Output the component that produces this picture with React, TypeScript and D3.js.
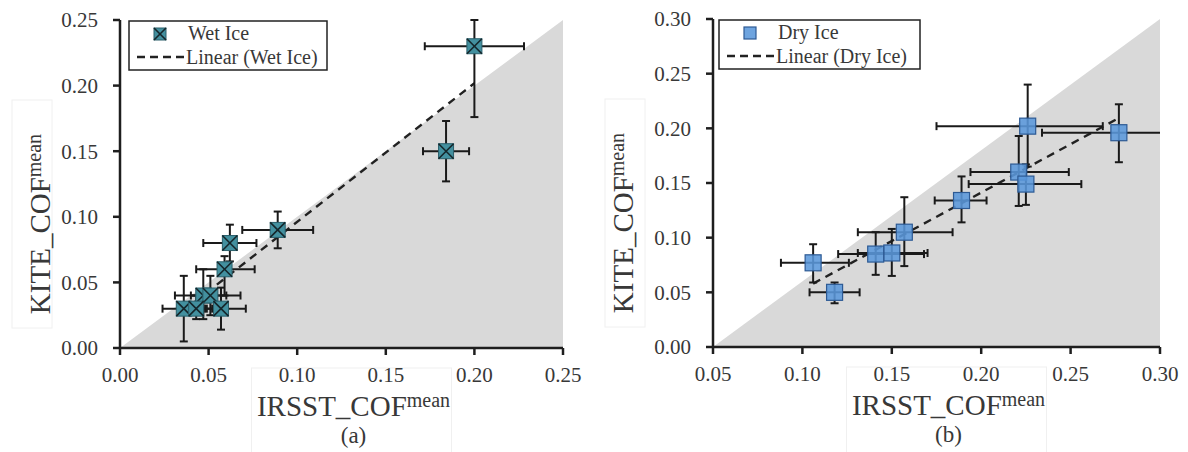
import React from 'react';
import * as d3 from 'd3';

// ---------- Data (a) Wet Ice ----------
const wetX = [0.200, 0.184, 0.089, 0.062, 0.059, 0.047, 0.051, 0.036, 0.043, 0.057];
const wetY = [0.230, 0.150, 0.090, 0.080, 0.060, 0.040, 0.040, 0.030, 0.030, 0.030];
const wetXLo = [0.172, 0.171, 0.069, 0.047, 0.043, 0.031, 0.040, 0.024, 0.035, 0.049];
const wetXHi = [0.228, 0.197, 0.109, 0.077, 0.076, 0.060, 0.068, 0.048, 0.052, 0.071];
const wetYLo = [0.176, 0.127, 0.076, 0.066, 0.040, 0.022, 0.025, 0.005, 0.022, 0.014];
const wetYHi = [0.250, 0.173, 0.104, 0.094, 0.070, 0.060, 0.055, 0.055, 0.040, 0.046];

// ---------- Data (b) Dry Ice ----------
const dryX = [0.226, 0.277, 0.221, 0.225, 0.189, 0.157, 0.150, 0.141, 0.106, 0.118];
const dryY = [0.202, 0.196, 0.160, 0.149, 0.134, 0.105, 0.086, 0.085, 0.077, 0.050];
const dryXLo = [0.175, 0.234, 0.194, 0.193, 0.174, 0.131, 0.131, 0.120, 0.088, 0.104];
const dryXHi = [0.268, 0.320, 0.249, 0.256, 0.203, 0.184, 0.170, 0.168, 0.126, 0.132];
const dryYLo = [0.165, 0.169, 0.129, 0.130, 0.114, 0.074, 0.065, 0.066, 0.059, 0.040];
const dryYHi = [0.240, 0.222, 0.193, 0.167, 0.156, 0.137, 0.108, 0.105, 0.094, 0.059];

// ---------- Ticks ----------
const wetXTicks = [0.0, 0.05, 0.10, 0.15, 0.20, 0.25];
const wetYTicks = [0.0, 0.05, 0.10, 0.15, 0.20, 0.25];
const dryXTicks = [0.05, 0.10, 0.15, 0.20, 0.25, 0.30];
const dryYTicks = [0.0, 0.05, 0.10, 0.15, 0.20, 0.25, 0.30];

const SERIF = "'Liberation Serif', 'DejaVu Serif', serif";
const TXT = '#383838';
const AX = '#1e1e1e';

function fit(xs: number[], ys: number[]) {
  const mx = d3.mean(xs)!;
  const my = d3.mean(ys)!;
  let sxy = 0, sxx = 0;
  xs.forEach((x, i) => { sxy += (x - mx) * (ys[i] - my); sxx += (x - mx) * (x - mx); });
  const b = sxy / sxx;
  return { b, a: my - b * mx };
}

type PanelProps = {
  id: string;
  xs: number[]; ys: number[]; xlo: number[]; xhi: number[]; ylo: number[]; yhi: number[];
  xDomain: [number, number]; yDomain: [number, number];
  xRange: [number, number]; yRange: [number, number];
  xTicks: number[]; yTicks: number[];
  kind: 'wet' | 'dry';
  name: string; letter: string;
  legendX: number; legendW: number;
  yTitleOff: number;
};

function Marker({ cx, cy, kind, s }: { cx: number; cy: number; kind: 'wet' | 'dry'; s: number }) {
  const h = s / 2;
  if (kind === 'wet') {
    return (
      <g>
        <rect x={cx - h} y={cy - h} width={s} height={s} fill="#43909f" stroke="#2a5f6b" strokeWidth={1} />
        <line x1={cx - h} y1={cy - h} x2={cx + h} y2={cy + h} stroke="#15262b" strokeWidth={1.6} />
        <line x1={cx - h} y1={cy + h} x2={cx + h} y2={cy - h} stroke="#15262b" strokeWidth={1.6} />
      </g>
    );
  }
  return (
    <rect x={cx - h} y={cy - h} width={s} height={s} fill="#5a97db" fillOpacity={0.88} stroke="#2d5a94" strokeWidth={1.2} />
  );
}

function Panel(p: PanelProps) {
  const x = d3.scaleLinear().domain(p.xDomain).range(p.xRange);
  const y = d3.scaleLinear().domain(p.yDomain).range(p.yRange);
  const [x0, x1] = p.xRange;
  const [y0, y1] = p.yRange;
  const { a, b } = fit(p.xs, p.ys);
  const fx0 = d3.min(p.xs)!;
  const fx1 = d3.max(p.xs)!;
  const cap = 4;
  const ms = p.kind === 'wet' ? 15 : 16;
  const midX = (x0 + x1) / 2;
  return (
    <g>
      <defs>
        <clipPath id={`clip-${p.id}`}>
          <rect x={x0} y={y1 - 10} width={x1 - x0} height={y0 - y1 + 10} />
        </clipPath>
      </defs>
      {/* faint frames around titles */}
      <rect x={x0 - 108} y={y1 + 80} width={40} height={228} fill="none" stroke="#f0f0f0" strokeWidth={1} />
      <rect x={midX - 90} y={y0 + 20} width={200} height={90} fill="none" stroke="#f0f0f0" strokeWidth={1} />
      {/* grey region below the diagonal */}
      <path d={`M${x(p.xDomain[0])},${y(p.yDomain[0])}L${x(p.xDomain[1])},${y(p.yDomain[1])}L${x(p.xDomain[1])},${y(p.yDomain[0])}Z`} fill="#d9d9d9" />
      {/* trendline */}
      <line x1={x(fx0)} y1={y(a + b * fx0)} x2={x(fx1)} y2={y(a + b * fx1)} stroke="#222" strokeWidth={2.4} strokeDasharray="8,6" />
      {/* error bars */}
      <g clipPath={`url(#clip-${p.id})`} stroke="#1a1a1a" strokeWidth={2}>
        {p.xs.map((xv, i) => (
          <g key={i}>
            <line x1={x(p.xlo[i])} x2={x(p.xhi[i])} y1={y(p.ys[i])} y2={y(p.ys[i])} />
            <line x1={x(p.xlo[i])} x2={x(p.xlo[i])} y1={y(p.ys[i]) - cap} y2={y(p.ys[i]) + cap} />
            <line x1={x(p.xhi[i])} x2={x(p.xhi[i])} y1={y(p.ys[i]) - cap} y2={y(p.ys[i]) + cap} />
            <line x1={x(xv)} x2={x(xv)} y1={y(p.ylo[i])} y2={y(p.yhi[i])} />
            <line x1={x(xv) - cap} x2={x(xv) + cap} y1={y(p.ylo[i])} y2={y(p.ylo[i])} />
            <line x1={x(xv) - cap} x2={x(xv) + cap} y1={y(p.yhi[i])} y2={y(p.yhi[i])} />
          </g>
        ))}
      </g>
      {/* markers */}
      {p.xs.map((xv, i) => (
        <Marker key={i} cx={x(xv)} cy={y(p.ys[i])} kind={p.kind} s={ms} />
      ))}
      {/* axes */}
      <line x1={x0} x2={x0} y1={y0} y2={y1} stroke={AX} strokeWidth={2.5} />
      <line x1={x0} x2={x1} y1={y0} y2={y0} stroke={AX} strokeWidth={2.5} />
      {p.yTicks.map((t) => (
        <g key={t}>
          <line x1={x0 - 7} x2={x0} y1={y(t)} y2={y(t)} stroke={AX} strokeWidth={2.5} />
          <text x={x0 - 22} y={y(t)} dy="0.35em" textAnchor="end" fontFamily={SERIF} fontSize={21} fill={TXT}>{t.toFixed(2)}</text>
        </g>
      ))}
      {p.xTicks.map((t) => (
        <g key={t}>
          <line x1={x(t)} x2={x(t)} y1={y0} y2={y0 + 7} stroke={AX} strokeWidth={2.5} />
          <text x={x(t)} y={y0 + 34} textAnchor="middle" fontFamily={SERIF} fontSize={21} fill={TXT}>{t.toFixed(2)}</text>
        </g>
      ))}
      {/* axis titles */}
      <text x={midX + 12} y={y0 + 68} textAnchor="middle" fontFamily={SERIF} fontSize={29} fill={TXT}>
        IRSST_COF<tspan dy={-9} fontSize={20}>mean</tspan>
      </text>
      <text x={midX + 12} y={y0 + 95} textAnchor="middle" fontFamily={SERIF} fontSize={23} fill={TXT}>{p.letter}</text>
      <text transform={`translate(${x0 - p.yTitleOff},${(y0 + y1) / 2 + 40}) rotate(-90)`} textAnchor="middle" fontFamily={SERIF} fontSize={29} fill={TXT}>
        KITE_COF<tspan dy={-9} fontSize={20}>mean</tspan>
      </text>
      {/* legend */}
      <g>
        <rect x={p.legendX} y={y1 + 1} width={p.legendW} height={49} fill="#fff" stroke="#222" strokeWidth={1.5} />
        <Marker cx={p.legendX + 31} cy={y1 + 14} kind={p.kind} s={12} />
        <text x={p.legendX + 59} y={y1 + 20} fontFamily={SERIF} fontSize={20} fill={TXT}>{p.name}</text>
        <line x1={p.legendX + 8} x2={p.legendX + 55} y1={y1 + 37} y2={y1 + 37} stroke="#222" strokeWidth={2.4} strokeDasharray="8,5" />
        <text x={p.legendX + 57} y={y1 + 44} fontFamily={SERIF} fontSize={20} fill={TXT}>{`Linear (${p.name})`}</text>
      </g>
    </g>
  );
}

export default function App() {
  return (
    <svg width={1188} height={452} style={{ position: 'absolute', left: 0, top: 0, background: '#fff' }}>
      <rect width={1188} height={452} fill="#fff" />
      <Panel id="a" xs={wetX} ys={wetY} xlo={wetXLo} xhi={wetXHi} ylo={wetYLo} yhi={wetYHi}
        xDomain={[0, 0.25]} yDomain={[0, 0.25]} xRange={[120, 563]} yRange={[348, 20]}
        xTicks={wetXTicks} yTicks={wetYTicks} kind="wet" name="Wet Ice" letter="(a)"
        legendX={129} legendW={198} yTitleOff={70} />
      <Panel id="b" xs={dryX} ys={dryY} xlo={dryXLo} xhi={dryXHi} ylo={dryYLo} yhi={dryYHi}
        xDomain={[0.05, 0.30]} yDomain={[0, 0.30]} xRange={[713, 1160]} yRange={[347, 19]}
        xTicks={dryXTicks} yTicks={dryYTicks} kind="dry" name="Dry Ice" letter="(b)"
        legendX={719} legendW={201} yTitleOff={80} />
    </svg>
  );
}
